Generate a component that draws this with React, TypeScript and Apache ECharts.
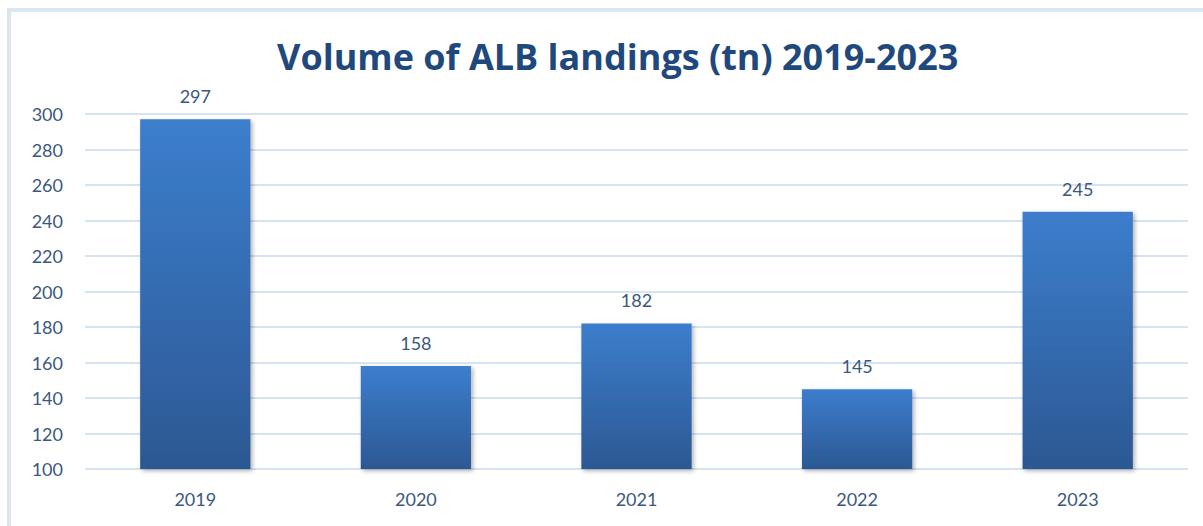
import React, { useEffect, useRef } from "react";
import * as echarts from "echarts";

const categories = ["2019", "2020", "2021", "2022", "2023"];
const landings = [297, 158, 182, 145, 245];
const titleText = "Volume of ALB landings (tn) 2019-2023";
const yMin = 100;
const yMax = 300;
const yStep = 20;

export default function App() {
  const ref = useRef<HTMLDivElement>(null);
  useEffect(() => {
    if (!ref.current) return;
    const chart = echarts.init(ref.current, undefined, { renderer: "svg" });
    const labelColor = "#3b5880";
    chart.setOption({
      animation: false,
      backgroundColor: "#ffffff",
      title: {
        text: titleText,
        left: 272,
        top: 33,
        textStyle: {
          fontFamily: "Open Sans",
          fontWeight: "bold",
          fontSize: 36,
          color: "#1f497d",
        },
      },
      graphic: [
        { type: "rect", shape: { x: 7, y: 8, width: 4, height: 518 }, style: { fill: "#dce6f2" } },
        { type: "rect", shape: { x: 7, y: 8, width: 1196, height: 4 }, style: { fill: "#dce6f2" } },
      ],
      grid: { left: 85, right: 15, top: 114, bottom: 57, containLabel: false },
      xAxis: {
        type: "category",
        data: categories,
        axisLine: { show: false },
        axisTick: { show: false },
        axisLabel: {
          color: labelColor,
          fontFamily: "Lato",
          fontSize: 18,
          margin: 21,
        },
      },
      yAxis: {
        type: "value",
        min: yMin,
        max: yMax,
        interval: yStep,
        axisLine: { show: false },
        axisTick: { show: false },
        axisLabel: {
          color: labelColor,
          fontFamily: "Lato",
          fontSize: 18,
          margin: 22,
        },
        splitLine: { lineStyle: { color: "#d6e3f3", width: 2 } },
      },
      series: [
        {
          type: "bar",
          data: landings,
          barWidth: "50%",
          itemStyle: {
            color: new echarts.graphic.LinearGradient(0, 0, 0, 1, [
              { offset: 0, color: "#3c7ecd" },
              { offset: 1, color: "#2c5893" },
            ]),
            shadowColor: "rgba(0,0,0,0.3)",
            shadowBlur: 4,
            shadowOffsetX: 2,
            shadowOffsetY: 2,
          },
          label: {
            show: true,
            position: "top",
            distance: 14,
            color: labelColor,
            fontFamily: "Lato",
            fontSize: 18,
          },
        },
      ],
    });
    return () => chart.dispose();
  }, []);
  return (
    <div
      ref={ref}
      style={{ position: "fixed", left: 0, top: 0, width: 1203, height: 526 }}
    />
  );
}
